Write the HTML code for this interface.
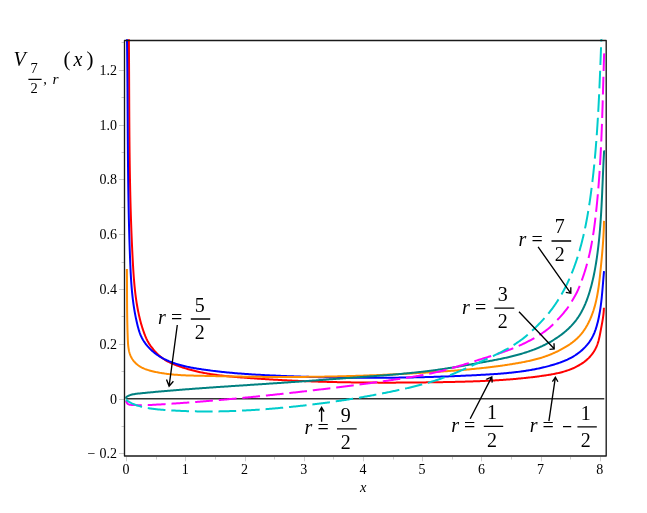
<!DOCTYPE html>
<html><head><meta charset="utf-8"><title>plot</title>
<style>html,body{margin:0;padding:0;background:#fff;}svg{display:block;will-change:transform;}text{font-family:"Liberation Serif",serif;fill:#000;}.i{font-style:italic;}</style>
</head><body>
<svg width="647" height="513" viewBox="0 0 647 513">
<rect x="0" y="0" width="647" height="513" fill="#fff"/>
<path d="M119,453.5H124 M121.5,426.5H124 M119,399.5H124 M121.5,371.5H124 M119,344.5H124 M121.5,316.5H124 M119,289.5H124 M121.5,262.5H124 M119,234.5H124 M121.5,207.5H124 M119,179.5H124 M121.5,152.5H124 M119,125.5H124 M121.5,97.5H124 M119,70.5H124 M121.5,42.5H124 M126.5,457V461.3 M156.5,457V459.5 M185.5,457V461.3 M215.5,457V459.5 M245.5,457V461.3 M274.5,457V459.5 M304.5,457V461.3 M333.5,457V459.5 M363.5,457V461.3 M393.5,457V459.5 M422.5,457V461.3 M452.5,457V459.5 M481.5,457V461.3 M511.5,457V459.5 M541.5,457V461.3 M570.5,457V459.5 M600.5,457V461.3" stroke="#000" stroke-opacity="0.2" stroke-width="1" fill="none"/>
<path d="M126.2,398.85H604.3" stroke="#333" stroke-width="1.5" fill="none"/>
<g fill="none" stroke-width="2" stroke-linejoin="round">
<path d="M128.90,39.30 L128.89,40.30 L128.90,41.30 L128.90,42.30 L128.91,43.30 L128.92,44.30 L128.93,45.30 L128.93,46.30 L128.94,47.30 L128.95,48.30 L128.95,49.30 L128.96,50.30 L128.97,51.30 L128.97,52.30 L128.98,53.30 L128.98,54.30 L128.99,55.30 L129.00,56.29 L129.00,57.29 L129.01,58.29 L129.01,59.29 L129.02,60.29 L129.02,61.29 L129.03,62.29 L129.03,63.29 L129.04,64.29 L129.04,65.29 L129.05,66.29 L129.05,67.29 L129.06,68.29 L129.06,69.29 L129.07,70.29 L129.07,71.29 L129.08,72.29 L129.08,73.29 L129.09,74.29 L129.09,75.29 L129.10,76.29 L129.10,77.29 L129.10,78.29 L129.11,79.29 L129.11,80.29 L129.12,81.29 L129.12,82.29 L129.13,83.29 L129.13,84.29 L129.13,85.29 L129.14,86.29 L129.14,87.29 L129.15,88.29 L129.15,89.29 L129.16,90.29 L129.16,91.29 L129.16,92.29 L129.17,93.29 L129.17,94.29 L129.18,95.29 L129.18,96.29 L129.19,97.29 L129.19,98.29 L129.20,99.29 L129.20,100.29 L129.20,101.29 L129.21,102.29 L129.21,103.29 L129.22,104.29 L129.22,105.29 L129.23,106.29 L129.23,107.29 L129.24,108.29 L129.24,109.29 L129.25,110.29 L129.25,111.29 L129.26,112.30 L129.26,113.30 L129.27,114.30 L129.27,115.30 L129.28,116.30 L129.29,117.30 L129.29,118.30 L129.30,119.30 L129.30,120.30 L129.31,121.30 L129.32,122.30 L129.32,123.30 L129.33,124.30 L129.34,125.30 L129.34,126.30 L129.35,127.30 L129.36,128.30 L129.36,129.30 L129.37,130.30 L129.38,131.30 L129.39,132.30 L129.39,133.30 L129.40,134.30 L129.41,135.30 L129.42,136.30 L129.43,137.30 L129.44,138.30 L129.44,139.30 L129.45,140.30 L129.46,141.30 L129.47,142.30 L129.48,143.30 L129.49,144.30 L129.50,145.30 L129.51,146.30 L129.52,147.30 L129.53,148.30 L129.54,149.30 L129.55,150.30 L129.56,151.30 L129.57,152.30 L129.59,153.30 L129.60,154.30 L129.61,155.30 L129.62,156.30 L129.63,157.30 L129.65,158.30 L129.66,159.30 L129.67,160.30 L129.69,161.30 L129.70,162.30 L129.71,163.30 L129.73,164.30 L129.74,165.30 L129.76,166.30 L129.77,167.30 L129.79,168.30 L129.80,169.30 L129.82,170.30 L129.83,171.30 L129.85,172.30 L129.87,173.30 L129.88,174.30 L129.90,175.30 L129.92,176.30 L129.93,177.30 L129.95,178.30 L129.97,179.30 L129.99,180.30 L130.01,181.30 L130.03,182.30 L130.05,183.30 L130.07,184.30 L130.09,185.30 L130.11,186.30 L130.13,187.30 L130.15,188.30 L130.17,189.30 L130.19,190.30 L130.21,191.30 L130.24,192.30 L130.26,193.30 L130.28,194.30 L130.30,195.30 L130.33,196.30 L130.35,197.30 L130.38,198.30 L130.40,199.30 L130.43,200.30 L130.45,201.30 L130.48,202.29 L130.50,203.29 L130.53,204.29 L130.56,205.29 L130.59,206.29 L130.61,207.29 L130.64,208.29 L130.67,209.29 L130.70,210.29 L130.73,211.29 L130.76,212.29 L130.79,213.29 L130.82,214.29 L130.85,215.29 L130.88,216.29 L130.92,217.29 L130.95,218.29 L130.98,219.29 L131.01,220.28 L131.05,221.28 L131.08,222.28 L131.12,223.28 L131.15,224.28 L131.19,225.28 L131.22,226.28 L131.26,227.28 L131.30,228.28 L131.33,229.28 L131.37,230.28 L131.41,231.27 L131.45,232.27 L131.49,233.27 L131.53,234.27 L131.57,235.27 L131.61,236.27 L131.65,237.27 L131.69,238.27 L131.73,239.27 L131.78,240.26 L131.82,241.26 L131.86,242.26 L131.91,243.26 L131.95,244.26 L132.00,245.26 L132.04,246.26 L132.09,247.26 L132.14,248.25 L132.18,249.25 L132.23,250.25 L132.28,251.25 L132.33,252.25 L132.38,253.25 L132.43,254.25 L132.48,255.24 L132.53,256.24 L132.58,257.24 L132.64,258.24 L132.69,259.24 L132.74,260.24 L132.80,261.23 L132.85,262.23 L132.91,263.23 L132.96,264.23 L133.02,265.23 L133.08,266.23 L133.13,267.22 L133.19,268.22 L133.25,269.22 L133.32,270.22 L133.38,271.21 L133.44,272.21 L133.51,273.21 L133.58,274.21 L133.65,275.20 L133.72,276.20 L133.79,277.20 L133.87,278.19 L133.94,279.19 L134.02,280.19 L134.11,281.18 L134.19,282.18 L134.28,283.18 L134.37,284.17 L134.46,285.17 L134.55,286.16 L134.65,287.16 L134.75,288.15 L134.85,289.15 L134.96,290.14 L135.07,291.13 L135.18,292.13 L135.30,293.12 L135.42,294.11 L135.54,295.11 L135.67,296.10 L135.80,297.09 L135.94,298.08 L136.08,299.07 L136.22,300.06 L136.37,301.05 L136.52,302.04 L136.67,303.03 L136.83,304.02 L137.00,305.01 L137.17,306.00 L137.34,306.99 L137.52,307.98 L137.70,308.96 L137.89,309.95 L138.08,310.94 L138.28,311.92 L138.49,312.91 L138.70,313.89 L138.91,314.87 L139.13,315.86 L139.36,316.83 L139.59,317.81 L139.83,318.79 L140.07,319.76 L140.32,320.74 L140.57,321.71 L140.84,322.67 L141.10,323.64 L141.38,324.60 L141.66,325.56 L141.95,326.52 L142.24,327.47 L142.54,328.42 L142.85,329.37 L143.16,330.31 L143.49,331.25 L143.82,332.18 L144.15,333.11 L144.50,334.04 L144.85,334.96 L145.21,335.88 L145.59,336.79 L145.98,337.69 L146.38,338.59 L146.80,339.48 L147.24,340.37 L147.69,341.24 L148.17,342.11 L148.67,342.97 L149.19,343.83 L149.74,344.67 L150.31,345.51 L150.91,346.33 L151.52,347.15 L152.15,347.96 L152.79,348.75 L153.43,349.54 L154.07,350.31 L154.72,351.07 L155.38,351.82 L156.05,352.55 L156.74,353.27 L157.45,353.97 L158.18,354.66 L158.91,355.33 L159.67,355.99 L160.44,356.63 L161.22,357.24 L162.01,357.84 L162.81,358.42 L163.63,358.98 L164.45,359.52 L165.28,360.04 L166.13,360.54 L166.98,361.03 L167.84,361.50 L168.71,361.95 L169.59,362.39 L170.47,362.81 L171.37,363.22 L172.27,363.62 L173.17,364.01 L174.09,364.38 L175.01,364.75 L175.93,365.11 L176.86,365.46 L177.80,365.80 L178.74,366.14 L179.69,366.47 L180.64,366.79 L181.59,367.11 L182.55,367.43 L183.51,367.74 L184.48,368.05 L185.44,368.35 L186.41,368.65 L187.38,368.94 L188.36,369.23 L189.33,369.51 L190.30,369.78 L191.28,370.05 L192.26,370.31 L193.23,370.56 L194.21,370.81 L195.19,371.05 L196.17,371.29 L197.15,371.52 L198.13,371.74 L199.12,371.95 L200.10,372.17 L201.08,372.37 L202.07,372.57 L203.05,372.77 L204.04,372.95 L205.02,373.14 L206.01,373.32 L206.99,373.49 L207.98,373.66 L208.97,373.83 L209.96,373.99 L210.95,374.14 L211.94,374.29 L212.93,374.44 L213.92,374.59 L214.91,374.72 L215.90,374.86 L216.89,374.99 L217.88,375.12 L218.88,375.25 L219.87,375.37 L220.86,375.49 L221.86,375.60 L222.85,375.72 L223.85,375.83 L224.84,375.93 L225.83,376.04 L226.83,376.14 L227.82,376.24 L228.82,376.34 L229.82,376.43 L230.81,376.53 L231.81,376.62 L232.80,376.71 L233.80,376.80 L234.80,376.88 L235.79,376.97 L236.79,377.05 L237.78,377.14 L238.78,377.22 L239.78,377.30 L240.77,377.38 L241.77,377.46 L242.77,377.54 L243.76,377.62 L244.76,377.69 L245.76,377.77 L246.75,377.85 L247.75,377.92 L248.75,378.00 L249.74,378.07 L250.74,378.14 L251.74,378.22 L252.73,378.29 L253.73,378.36 L254.73,378.43 L255.72,378.50 L256.72,378.57 L257.72,378.64 L258.71,378.71 L259.71,378.77 L260.70,378.84 L261.70,378.91 L262.70,378.97 L263.69,379.04 L264.69,379.10 L265.69,379.16 L266.68,379.23 L267.68,379.29 L268.68,379.35 L269.67,379.41 L270.67,379.47 L271.67,379.53 L272.66,379.59 L273.66,379.65 L274.66,379.70 L275.65,379.76 L276.65,379.82 L277.65,379.87 L278.65,379.93 L279.64,379.98 L280.64,380.04 L281.64,380.09 L282.63,380.14 L283.63,380.19 L284.63,380.24 L285.62,380.29 L286.62,380.34 L287.62,380.39 L288.61,380.44 L289.61,380.49 L290.61,380.54 L291.61,380.58 L292.60,380.63 L293.60,380.68 L294.60,380.72 L295.59,380.77 L296.59,380.81 L297.59,380.85 L298.58,380.90 L299.58,380.94 L300.58,380.98 L301.58,381.02 L302.57,381.06 L303.57,381.10 L304.57,381.14 L305.57,381.18 L306.56,381.22 L307.56,381.25 L308.56,381.29 L309.55,381.33 L310.55,381.36 L311.55,381.40 L312.55,381.43 L313.54,381.47 L314.54,381.50 L315.54,381.54 L316.54,381.57 L317.53,381.60 L318.53,381.63 L319.53,381.66 L320.53,381.69 L321.53,381.72 L322.52,381.75 L323.52,381.78 L324.52,381.81 L325.52,381.84 L326.51,381.86 L327.51,381.89 L328.51,381.92 L329.51,381.94 L330.51,381.97 L331.50,381.99 L332.50,382.02 L333.50,382.04 L334.50,382.06 L335.50,382.09 L336.49,382.11 L337.49,382.13 L338.49,382.15 L339.49,382.17 L340.49,382.19 L341.49,382.21 L342.48,382.23 L343.48,382.25 L344.48,382.27 L345.48,382.29 L346.48,382.31 L347.48,382.32 L348.48,382.34 L349.47,382.36 L350.47,382.37 L351.47,382.39 L352.47,382.40 L353.47,382.41 L354.47,382.43 L355.47,382.44 L356.47,382.45 L357.47,382.47 L358.46,382.48 L359.46,382.49 L360.46,382.50 L361.46,382.51 L362.46,382.52 L363.46,382.53 L364.46,382.54 L365.46,382.55 L366.46,382.56 L367.46,382.57 L368.46,382.57 L369.46,382.58 L370.46,382.59 L371.46,382.59 L372.46,382.60 L373.46,382.61 L374.45,382.61 L375.45,382.62 L376.45,382.62 L377.45,382.62 L378.45,382.63 L379.45,382.63 L380.45,382.63 L381.45,382.64 L382.45,382.64 L383.45,382.64 L384.46,382.64 L385.46,382.64 L386.46,382.64 L387.46,382.64 L388.46,382.64 L389.46,382.64 L390.46,382.64 L391.46,382.64 L392.46,382.64 L393.46,382.63 L394.46,382.63 L395.46,382.63 L396.46,382.62 L397.46,382.62 L398.46,382.62 L399.47,382.61 L400.47,382.61 L401.47,382.60 L402.47,382.60 L403.47,382.59 L404.47,382.59 L405.47,382.58 L406.47,382.57 L407.48,382.57 L408.48,382.56 L409.48,382.55 L410.48,382.54 L411.48,382.53 L412.48,382.53 L413.49,382.52 L414.49,382.51 L415.49,382.50 L416.49,382.49 L417.49,382.48 L418.50,382.47 L419.50,382.46 L420.50,382.44 L421.50,382.43 L422.51,382.42 L423.51,382.41 L424.51,382.40 L425.51,382.38 L426.52,382.37 L427.52,382.36 L428.52,382.34 L429.52,382.33 L430.53,382.32 L431.53,382.30 L432.53,382.29 L433.54,382.27 L434.54,382.26 L435.54,382.24 L436.55,382.23 L437.55,382.21 L438.55,382.20 L439.56,382.18 L440.56,382.16 L441.56,382.14 L442.57,382.13 L443.57,382.11 L444.58,382.09 L445.58,382.07 L446.58,382.06 L447.59,382.04 L448.59,382.02 L449.60,382.00 L450.60,381.98 L451.60,381.96 L452.61,381.94 L453.61,381.91 L454.62,381.89 L455.62,381.87 L456.63,381.85 L457.63,381.82 L458.63,381.80 L459.64,381.77 L460.64,381.75 L461.64,381.72 L462.65,381.70 L463.65,381.67 L464.66,381.64 L465.66,381.61 L466.66,381.58 L467.67,381.55 L468.67,381.52 L469.67,381.49 L470.68,381.46 L471.68,381.42 L472.68,381.39 L473.69,381.35 L474.69,381.32 L475.69,381.28 L476.69,381.24 L477.70,381.21 L478.70,381.17 L479.70,381.13 L480.70,381.08 L481.70,381.04 L482.70,381.00 L483.71,380.95 L484.71,380.91 L485.71,380.86 L486.71,380.81 L487.71,380.77 L488.71,380.72 L489.71,380.66 L490.71,380.61 L491.71,380.56 L492.71,380.50 L493.71,380.45 L494.71,380.39 L495.71,380.33 L496.70,380.27 L497.70,380.21 L498.70,380.15 L499.70,380.09 L500.70,380.02 L501.69,379.96 L502.69,379.89 L503.69,379.82 L504.68,379.75 L505.68,379.68 L506.67,379.61 L507.67,379.53 L508.66,379.45 L509.66,379.38 L510.65,379.30 L511.65,379.22 L512.64,379.14 L513.63,379.05 L514.63,378.97 L515.62,378.88 L516.61,378.79 L517.60,378.70 L518.60,378.61 L519.59,378.51 L520.58,378.42 L521.57,378.32 L522.56,378.22 L523.55,378.12 L524.54,378.02 L525.52,377.92 L526.51,377.81 L527.50,377.70 L528.49,377.59 L529.47,377.48 L530.46,377.37 L531.45,377.25 L532.43,377.14 L533.42,377.02 L534.40,376.90 L535.39,376.77 L536.37,376.65 L537.35,376.52 L538.34,376.39 L539.32,376.26 L540.30,376.13 L541.28,375.99 L542.26,375.85 L543.24,375.72 L544.22,375.57 L545.20,375.43 L546.18,375.28 L547.16,375.13 L548.13,374.98 L549.11,374.82 L550.09,374.66 L551.06,374.49 L552.04,374.32 L553.01,374.14 L553.98,373.95 L554.96,373.76 L555.93,373.56 L556.90,373.35 L557.87,373.14 L558.84,372.91 L559.82,372.68 L560.78,372.44 L561.75,372.18 L562.72,371.92 L563.69,371.64 L564.66,371.35 L565.62,371.06 L566.59,370.74 L567.55,370.42 L568.51,370.08 L569.46,369.74 L570.41,369.37 L571.36,369.00 L572.30,368.61 L573.23,368.21 L574.16,367.79 L575.08,367.36 L575.99,366.92 L576.90,366.46 L577.79,365.99 L578.68,365.50 L579.56,364.99 L580.42,364.47 L581.27,363.94 L582.11,363.39 L582.94,362.82 L583.76,362.24 L584.56,361.64 L585.34,361.02 L586.12,360.38 L586.87,359.73 L587.61,359.06 L588.33,358.38 L589.04,357.67 L589.72,356.95 L590.39,356.21 L591.04,355.45 L591.67,354.67 L592.28,353.87 L592.86,353.06 L593.43,352.23 L593.97,351.39 L594.49,350.54 L594.99,349.67 L595.46,348.79 L595.91,347.90 L596.33,347.00 L596.72,346.09 L597.09,345.17 L597.44,344.24 L597.76,343.31 L598.06,342.37 L598.35,341.42 L598.62,340.47 L598.87,339.51 L599.10,338.54 L599.33,337.57 L599.54,336.60 L599.75,335.62 L599.95,334.64 L600.14,333.65 L600.33,332.66 L600.51,331.66 L600.70,330.67 L600.88,329.67 L601.07,328.67 L601.26,327.66 L601.45,326.66 L601.64,325.66 L601.82,324.65 L602.01,323.65 L602.19,322.64 L602.36,321.64 L602.53,320.64 L602.70,319.64 L602.86,318.64 L603.01,317.64 L603.15,316.64 L603.28,315.65 L603.40,314.66 L603.51,313.68 L603.61,312.70 L603.70,311.72 L603.77,310.75 L603.83,309.78 L603.87,308.82 L603.90,307.87 L603.90,307.80" stroke="#ff0000"/>
<path d="M127.00,39.30 L127.00,40.31 L127.01,41.31 L127.03,42.30 L127.04,43.30 L127.05,44.30 L127.07,45.30 L127.08,46.30 L127.09,47.29 L127.11,48.29 L127.12,49.29 L127.13,50.29 L127.15,51.29 L127.16,52.29 L127.17,53.28 L127.18,54.28 L127.19,55.28 L127.21,56.28 L127.22,57.28 L127.23,58.28 L127.24,59.28 L127.25,60.27 L127.26,61.27 L127.27,62.27 L127.28,63.27 L127.29,64.27 L127.30,65.27 L127.31,66.27 L127.32,67.27 L127.33,68.27 L127.34,69.27 L127.35,70.27 L127.36,71.26 L127.37,72.26 L127.38,73.26 L127.38,74.26 L127.39,75.26 L127.40,76.26 L127.41,77.26 L127.42,78.26 L127.43,79.26 L127.43,80.26 L127.44,81.26 L127.45,82.26 L127.46,83.26 L127.46,84.26 L127.47,85.26 L127.48,86.26 L127.49,87.26 L127.49,88.26 L127.50,89.26 L127.51,90.26 L127.51,91.26 L127.52,92.26 L127.53,93.26 L127.53,94.26 L127.54,95.26 L127.55,96.26 L127.55,97.26 L127.56,98.26 L127.57,99.26 L127.57,100.26 L127.58,101.26 L127.58,102.26 L127.59,103.26 L127.60,104.26 L127.60,105.27 L127.61,106.27 L127.61,107.27 L127.62,108.27 L127.63,109.27 L127.63,110.27 L127.64,111.27 L127.64,112.27 L127.65,113.27 L127.65,114.27 L127.66,115.27 L127.67,116.27 L127.67,117.27 L127.68,118.27 L127.68,119.27 L127.69,120.28 L127.70,121.28 L127.70,122.28 L127.71,123.28 L127.71,124.28 L127.72,125.28 L127.73,126.28 L127.73,127.28 L127.74,128.28 L127.74,129.28 L127.75,130.28 L127.76,131.29 L127.76,132.29 L127.77,133.29 L127.77,134.29 L127.78,135.29 L127.79,136.29 L127.79,137.29 L127.80,138.29 L127.81,139.29 L127.81,140.29 L127.82,141.30 L127.83,142.30 L127.83,143.30 L127.84,144.30 L127.85,145.30 L127.86,146.30 L127.86,147.30 L127.87,148.30 L127.88,149.30 L127.89,150.30 L127.89,151.30 L127.90,152.31 L127.91,153.31 L127.92,154.31 L127.93,155.31 L127.94,156.31 L127.94,157.31 L127.95,158.31 L127.96,159.31 L127.97,160.31 L127.98,161.31 L127.99,162.31 L128.00,163.32 L128.01,164.32 L128.02,165.32 L128.03,166.32 L128.04,167.32 L128.05,168.32 L128.06,169.32 L128.07,170.32 L128.08,171.32 L128.09,172.32 L128.10,173.32 L128.11,174.32 L128.12,175.32 L128.14,176.33 L128.15,177.33 L128.16,178.33 L128.17,179.33 L128.19,180.33 L128.20,181.33 L128.21,182.33 L128.22,183.33 L128.24,184.33 L128.25,185.33 L128.26,186.33 L128.28,187.33 L128.29,188.33 L128.31,189.33 L128.32,190.33 L128.34,191.33 L128.35,192.33 L128.37,193.33 L128.38,194.33 L128.40,195.33 L128.42,196.33 L128.43,197.33 L128.45,198.33 L128.47,199.33 L128.48,200.33 L128.50,201.33 L128.52,202.33 L128.54,203.33 L128.56,204.33 L128.57,205.33 L128.59,206.33 L128.61,207.33 L128.63,208.33 L128.65,209.33 L128.67,210.33 L128.69,211.33 L128.71,212.33 L128.73,213.33 L128.76,214.33 L128.78,215.33 L128.80,216.33 L128.82,217.33 L128.84,218.33 L128.87,219.32 L128.89,220.32 L128.91,221.32 L128.94,222.32 L128.96,223.32 L128.99,224.32 L129.01,225.32 L129.04,226.32 L129.06,227.32 L129.09,228.31 L129.12,229.31 L129.14,230.31 L129.17,231.31 L129.20,232.31 L129.23,233.31 L129.26,234.31 L129.28,235.30 L129.31,236.30 L129.34,237.30 L129.37,238.30 L129.40,239.30 L129.43,240.30 L129.46,241.29 L129.50,242.29 L129.53,243.29 L129.56,244.29 L129.59,245.28 L129.63,246.28 L129.66,247.28 L129.69,248.28 L129.73,249.28 L129.76,250.27 L129.80,251.27 L129.84,252.27 L129.87,253.26 L129.91,254.26 L129.95,255.26 L129.98,256.26 L130.02,257.25 L130.06,258.25 L130.10,259.25 L130.14,260.24 L130.18,261.24 L130.22,262.24 L130.26,263.23 L130.30,264.23 L130.34,265.23 L130.39,266.22 L130.43,267.22 L130.47,268.21 L130.52,269.21 L130.57,270.21 L130.61,271.20 L130.66,272.20 L130.71,273.20 L130.77,274.19 L130.82,275.19 L130.88,276.18 L130.93,277.18 L130.99,278.18 L131.05,279.17 L131.12,280.17 L131.18,281.16 L131.25,282.16 L131.32,283.16 L131.39,284.15 L131.47,285.15 L131.54,286.15 L131.62,287.14 L131.70,288.14 L131.79,289.14 L131.88,290.14 L131.97,291.13 L132.06,292.13 L132.16,293.13 L132.26,294.12 L132.37,295.12 L132.47,296.12 L132.59,297.12 L132.70,298.12 L132.82,299.12 L132.94,300.11 L133.07,301.11 L133.20,302.11 L133.33,303.11 L133.47,304.11 L133.62,305.11 L133.76,306.11 L133.91,307.11 L134.07,308.11 L134.23,309.11 L134.40,310.11 L134.57,311.11 L134.74,312.11 L134.92,313.11 L135.11,314.11 L135.30,315.11 L135.49,316.11 L135.69,317.10 L135.89,318.09 L136.10,319.08 L136.32,320.07 L136.53,321.06 L136.76,322.04 L136.98,323.02 L137.22,323.99 L137.45,324.96 L137.69,325.92 L137.94,326.88 L138.19,327.84 L138.45,328.79 L138.72,329.73 L139.00,330.67 L139.30,331.60 L139.61,332.53 L139.94,333.45 L140.29,334.36 L140.66,335.26 L141.06,336.16 L141.48,337.04 L141.92,337.92 L142.39,338.79 L142.87,339.65 L143.38,340.50 L143.91,341.34 L144.47,342.17 L145.04,342.99 L145.63,343.80 L146.24,344.60 L146.87,345.38 L147.51,346.15 L148.18,346.91 L148.86,347.66 L149.56,348.40 L150.27,349.12 L151.00,349.83 L151.75,350.52 L152.50,351.20 L153.28,351.86 L154.06,352.51 L154.86,353.14 L155.67,353.76 L156.49,354.36 L157.32,354.95 L158.16,355.52 L159.02,356.07 L159.88,356.61 L160.75,357.13 L161.63,357.63 L162.51,358.13 L163.41,358.60 L164.31,359.07 L165.21,359.51 L166.13,359.95 L167.04,360.37 L167.97,360.78 L168.89,361.18 L169.82,361.56 L170.75,361.93 L171.69,362.29 L172.62,362.64 L173.56,362.98 L174.50,363.30 L175.44,363.62 L176.38,363.92 L177.33,364.22 L178.27,364.50 L179.22,364.78 L180.16,365.04 L181.11,365.30 L182.06,365.55 L183.02,365.79 L183.97,366.03 L184.92,366.25 L185.88,366.47 L186.83,366.68 L187.79,366.89 L188.75,367.09 L189.71,367.28 L190.67,367.47 L191.64,367.65 L192.60,367.83 L193.57,368.00 L194.53,368.17 L195.50,368.34 L196.47,368.50 L197.44,368.65 L198.41,368.81 L199.38,368.96 L200.36,369.11 L201.33,369.26 L202.30,369.40 L203.28,369.55 L204.26,369.69 L205.24,369.83 L206.21,369.97 L207.19,370.10 L208.18,370.23 L209.16,370.36 L210.14,370.49 L211.12,370.62 L212.11,370.74 L213.09,370.87 L214.08,370.99 L215.07,371.11 L216.05,371.22 L217.04,371.34 L218.03,371.45 L219.02,371.57 L220.01,371.68 L221.01,371.78 L222.00,371.89 L222.99,372.00 L223.98,372.10 L224.98,372.20 L225.97,372.30 L226.97,372.40 L227.97,372.49 L228.96,372.59 L229.96,372.68 L230.96,372.78 L231.96,372.87 L232.96,372.95 L233.96,373.04 L234.96,373.13 L235.96,373.21 L236.96,373.30 L237.96,373.38 L238.96,373.46 L239.96,373.54 L240.97,373.61 L241.97,373.69 L242.97,373.77 L243.98,373.84 L244.98,373.91 L245.99,373.98 L246.99,374.05 L248.00,374.12 L249.00,374.19 L250.01,374.26 L251.02,374.32 L252.02,374.39 L253.03,374.45 L254.04,374.51 L255.04,374.57 L256.05,374.63 L257.06,374.69 L258.07,374.75 L259.08,374.81 L260.08,374.87 L261.09,374.92 L262.10,374.98 L263.11,375.03 L264.12,375.08 L265.12,375.14 L266.13,375.19 L267.14,375.24 L268.15,375.29 L269.16,375.34 L270.17,375.39 L271.18,375.44 L272.18,375.48 L273.19,375.53 L274.20,375.58 L275.21,375.62 L276.22,375.67 L277.22,375.71 L278.23,375.76 L279.24,375.80 L280.25,375.84 L281.25,375.88 L282.26,375.93 L283.27,375.97 L284.27,376.01 L285.28,376.05 L286.29,376.09 L287.29,376.13 L288.30,376.17 L289.30,376.21 L290.31,376.25 L291.32,376.28 L292.32,376.32 L293.33,376.36 L294.33,376.40 L295.33,376.43 L296.34,376.47 L297.34,376.50 L298.35,376.54 L299.35,376.57 L300.36,376.61 L301.36,376.64 L302.36,376.67 L303.37,376.70 L304.37,376.74 L305.37,376.77 L306.38,376.80 L307.38,376.83 L308.38,376.86 L309.38,376.89 L310.39,376.92 L311.39,376.95 L312.39,376.97 L313.39,377.00 L314.39,377.03 L315.39,377.06 L316.40,377.08 L317.40,377.11 L318.40,377.13 L319.40,377.16 L320.40,377.18 L321.40,377.21 L322.40,377.23 L323.40,377.25 L324.40,377.28 L325.40,377.30 L326.40,377.32 L327.40,377.34 L328.40,377.36 L329.40,377.38 L330.40,377.40 L331.40,377.42 L332.40,377.44 L333.40,377.46 L334.40,377.48 L335.40,377.49 L336.40,377.51 L337.40,377.53 L338.40,377.54 L339.40,377.56 L340.40,377.57 L341.39,377.59 L342.39,377.60 L343.39,377.62 L344.39,377.63 L345.39,377.64 L346.39,377.65 L347.38,377.67 L348.38,377.68 L349.38,377.69 L350.38,377.70 L351.38,377.71 L352.37,377.72 L353.37,377.73 L354.37,377.73 L355.37,377.74 L356.36,377.75 L357.36,377.76 L358.36,377.76 L359.36,377.77 L360.35,377.77 L361.35,377.78 L362.35,377.78 L363.35,377.79 L364.34,377.79 L365.34,377.80 L366.34,377.80 L367.33,377.80 L368.33,377.80 L369.33,377.80 L370.32,377.80 L371.32,377.80 L372.32,377.80 L373.31,377.80 L374.31,377.80 L375.31,377.80 L376.30,377.80 L377.30,377.80 L378.30,377.79 L379.29,377.79 L380.29,377.79 L381.29,377.78 L382.28,377.78 L383.28,377.77 L384.27,377.76 L385.27,377.76 L386.27,377.75 L387.26,377.74 L388.26,377.74 L389.26,377.73 L390.25,377.72 L391.25,377.71 L392.24,377.70 L393.24,377.69 L394.24,377.68 L395.23,377.67 L396.23,377.66 L397.23,377.64 L398.22,377.63 L399.22,377.62 L400.21,377.60 L401.21,377.59 L402.21,377.58 L403.20,377.56 L404.20,377.54 L405.20,377.53 L406.19,377.51 L407.19,377.50 L408.19,377.48 L409.18,377.46 L410.18,377.44 L411.17,377.42 L412.17,377.40 L413.17,377.38 L414.16,377.36 L415.16,377.34 L416.16,377.32 L417.15,377.30 L418.15,377.28 L419.15,377.25 L420.14,377.23 L421.14,377.21 L422.14,377.18 L423.14,377.16 L424.13,377.13 L425.13,377.10 L426.13,377.08 L427.12,377.05 L428.12,377.02 L429.12,377.00 L430.12,376.97 L431.11,376.94 L432.11,376.91 L433.11,376.88 L434.11,376.85 L435.10,376.82 L436.10,376.79 L437.10,376.76 L438.10,376.72 L439.09,376.69 L440.09,376.66 L441.09,376.62 L442.09,376.59 L443.09,376.56 L444.08,376.52 L445.08,376.49 L446.08,376.45 L447.08,376.41 L448.08,376.38 L449.08,376.34 L450.08,376.30 L451.08,376.26 L452.07,376.22 L453.07,376.18 L454.07,376.14 L455.07,376.10 L456.07,376.06 L457.07,376.02 L458.07,375.98 L459.07,375.93 L460.07,375.89 L461.07,375.85 L462.07,375.80 L463.07,375.76 L464.07,375.71 L465.07,375.67 L466.07,375.62 L467.07,375.57 L468.07,375.53 L469.07,375.48 L470.08,375.43 L471.08,375.38 L472.08,375.33 L473.08,375.28 L474.08,375.23 L475.08,375.18 L476.09,375.13 L477.09,375.08 L478.09,375.03 L479.09,374.98 L480.09,374.92 L481.10,374.87 L482.10,374.82 L483.10,374.76 L484.10,374.71 L485.11,374.65 L486.11,374.59 L487.11,374.53 L488.12,374.47 L489.12,374.41 L490.12,374.35 L491.13,374.29 L492.13,374.23 L493.13,374.16 L494.13,374.09 L495.14,374.03 L496.14,373.96 L497.14,373.88 L498.14,373.81 L499.14,373.74 L500.15,373.66 L501.15,373.58 L502.15,373.50 L503.15,373.42 L504.15,373.33 L505.15,373.24 L506.15,373.15 L507.15,373.06 L508.15,372.97 L509.15,372.87 L510.14,372.77 L511.14,372.67 L512.14,372.56 L513.13,372.46 L514.13,372.34 L515.13,372.23 L516.12,372.11 L517.12,371.99 L518.11,371.87 L519.10,371.75 L520.10,371.62 L521.09,371.48 L522.08,371.35 L523.07,371.21 L524.06,371.06 L525.05,370.92 L526.04,370.77 L527.02,370.61 L528.01,370.45 L529.00,370.29 L529.98,370.13 L530.97,369.96 L531.95,369.78 L532.93,369.60 L533.91,369.42 L534.90,369.23 L535.87,369.04 L536.85,368.84 L537.83,368.64 L538.81,368.44 L539.78,368.23 L540.76,368.01 L541.73,367.79 L542.70,367.57 L543.68,367.34 L544.65,367.10 L545.62,366.86 L546.58,366.61 L547.55,366.36 L548.52,366.11 L549.48,365.85 L550.44,365.58 L551.40,365.31 L552.37,365.03 L553.32,364.74 L554.28,364.45 L555.24,364.16 L556.19,363.86 L557.15,363.55 L558.10,363.23 L559.04,362.90 L559.99,362.57 L560.93,362.23 L561.87,361.88 L562.80,361.52 L563.73,361.15 L564.65,360.77 L565.57,360.38 L566.49,359.97 L567.40,359.56 L568.30,359.13 L569.20,358.69 L570.09,358.24 L570.97,357.77 L571.85,357.29 L572.72,356.80 L573.59,356.29 L574.44,355.77 L575.29,355.23 L576.12,354.67 L576.95,354.10 L577.77,353.51 L578.58,352.92 L579.38,352.30 L580.16,351.67 L580.94,351.03 L581.70,350.37 L582.45,349.70 L583.18,349.02 L583.91,348.32 L584.61,347.61 L585.31,346.89 L585.98,346.15 L586.64,345.41 L587.29,344.65 L587.92,343.87 L588.53,343.09 L589.12,342.29 L589.70,341.48 L590.25,340.66 L590.79,339.83 L591.30,338.99 L591.80,338.14 L592.27,337.27 L592.73,336.40 L593.17,335.52 L593.58,334.62 L593.98,333.72 L594.37,332.81 L594.73,331.90 L595.08,330.97 L595.42,330.04 L595.74,329.10 L596.05,328.16 L596.35,327.20 L596.63,326.25 L596.91,325.29 L597.17,324.33 L597.42,323.36 L597.67,322.39 L597.91,321.41 L598.14,320.44 L598.36,319.46 L598.57,318.48 L598.78,317.49 L598.98,316.51 L599.17,315.52 L599.36,314.53 L599.54,313.54 L599.72,312.55 L599.88,311.55 L600.05,310.56 L600.20,309.56 L600.36,308.56 L600.50,307.56 L600.64,306.56 L600.78,305.56 L600.91,304.56 L601.04,303.55 L601.17,302.55 L601.28,301.54 L601.40,300.54 L601.51,299.53 L601.62,298.53 L601.73,297.52 L601.83,296.52 L601.93,295.51 L602.03,294.51 L602.12,293.51 L602.21,292.50 L602.30,291.50 L602.39,290.50 L602.48,289.49 L602.56,288.49 L602.65,287.49 L602.73,286.49 L602.81,285.50 L602.89,284.50 L602.97,283.51 L603.06,282.51 L603.14,281.52 L603.22,280.53 L603.30,279.55 L603.38,278.56 L603.46,277.58 L603.54,276.60 L603.63,275.62 L603.71,274.64 L603.80,273.67 L603.89,272.70 L603.98,271.73 L604.00,271.10" stroke="#0000ff"/>
<path d="M126.90,268.90 L126.89,269.91 L126.90,270.93 L126.91,271.95 L126.92,272.96 L126.93,273.98 L126.93,274.99 L126.94,276.00 L126.95,277.01 L126.96,278.01 L126.96,279.02 L126.97,280.02 L126.97,281.02 L126.98,282.02 L126.98,283.02 L126.99,284.02 L126.99,285.02 L127.00,286.01 L127.00,287.01 L127.01,288.00 L127.01,288.99 L127.01,289.99 L127.02,290.98 L127.02,291.97 L127.02,292.96 L127.03,293.95 L127.03,294.94 L127.04,295.92 L127.04,296.91 L127.04,297.90 L127.05,298.89 L127.05,299.87 L127.06,300.86 L127.06,301.85 L127.07,302.84 L127.08,303.82 L127.08,304.81 L127.09,305.80 L127.10,306.79 L127.10,307.78 L127.11,308.76 L127.12,309.75 L127.13,310.74 L127.14,311.73 L127.15,312.72 L127.17,313.72 L127.18,314.71 L127.19,315.70 L127.21,316.70 L127.22,317.69 L127.24,318.69 L127.25,319.69 L127.27,320.69 L127.29,321.69 L127.31,322.69 L127.33,323.69 L127.35,324.70 L127.38,325.70 L127.40,326.71 L127.43,327.72 L127.45,328.73 L127.48,329.74 L127.51,330.76 L127.54,331.77 L127.57,332.79 L127.60,333.81 L127.64,334.83 L127.67,335.86 L127.71,336.89 L127.75,337.92 L127.79,338.95 L127.83,339.98 L127.88,341.02 L127.94,342.05 L128.00,343.08 L128.07,344.11 L128.16,345.14 L128.26,346.16 L128.38,347.17 L128.52,348.18 L128.68,349.18 L128.86,350.17 L129.07,351.15 L129.31,352.11 L129.57,353.06 L129.87,354.00 L130.21,354.92 L130.58,355.82 L130.98,356.71 L131.43,357.58 L131.91,358.42 L132.43,359.25 L132.99,360.05 L133.58,360.83 L134.20,361.58 L134.86,362.31 L135.54,363.02 L136.25,363.69 L136.99,364.34 L137.75,364.96 L138.54,365.54 L139.36,366.10 L140.19,366.62 L141.04,367.12 L141.91,367.58 L142.80,368.02 L143.71,368.43 L144.63,368.82 L145.56,369.19 L146.51,369.53 L147.46,369.85 L148.43,370.16 L149.40,370.45 L150.38,370.72 L151.37,370.98 L152.36,371.22 L153.35,371.46 L154.34,371.68 L155.33,371.90 L156.32,372.11 L157.32,372.31 L158.31,372.50 L159.30,372.68 L160.29,372.86 L161.29,373.03 L162.28,373.19 L163.27,373.34 L164.27,373.49 L165.26,373.63 L166.25,373.77 L167.25,373.90 L168.24,374.02 L169.23,374.13 L170.23,374.24 L171.22,374.35 L172.21,374.45 L173.21,374.54 L174.20,374.63 L175.20,374.72 L176.19,374.80 L177.18,374.87 L178.18,374.94 L179.17,375.01 L180.17,375.07 L181.16,375.13 L182.16,375.19 L183.15,375.24 L184.15,375.29 L185.14,375.33 L186.14,375.38 L187.13,375.42 L188.13,375.45 L189.12,375.49 L190.12,375.52 L191.11,375.55 L192.11,375.58 L193.10,375.61 L194.10,375.64 L195.09,375.67 L196.09,375.69 L197.08,375.72 L198.08,375.74 L199.08,375.76 L200.07,375.78 L201.07,375.81 L202.06,375.83 L203.06,375.85 L204.06,375.87 L205.05,375.90 L206.05,375.92 L207.04,375.94 L208.04,375.96 L209.04,375.99 L210.03,376.01 L211.03,376.03 L212.03,376.05 L213.02,376.07 L214.02,376.09 L215.02,376.11 L216.01,376.14 L217.01,376.16 L218.01,376.18 L219.00,376.20 L220.00,376.22 L221.00,376.24 L222.00,376.26 L222.99,376.28 L223.99,376.30 L224.99,376.32 L225.99,376.34 L226.98,376.36 L227.98,376.38 L228.98,376.39 L229.98,376.41 L230.97,376.43 L231.97,376.45 L232.97,376.47 L233.97,376.49 L234.97,376.50 L235.96,376.52 L236.96,376.54 L237.96,376.55 L238.96,376.57 L239.96,376.59 L240.95,376.60 L241.95,376.62 L242.95,376.63 L243.95,376.65 L244.95,376.66 L245.95,376.68 L246.94,376.69 L247.94,376.71 L248.94,376.72 L249.94,376.74 L250.94,376.75 L251.94,376.76 L252.94,376.77 L253.94,376.79 L254.94,376.80 L255.93,376.81 L256.93,376.82 L257.93,376.83 L258.93,376.84 L259.93,376.85 L260.93,376.86 L261.93,376.87 L262.93,376.88 L263.93,376.89 L264.93,376.90 L265.93,376.91 L266.93,376.91 L267.93,376.92 L268.92,376.93 L269.92,376.94 L270.92,376.94 L271.92,376.95 L272.92,376.95 L273.92,376.96 L274.92,376.96 L275.92,376.97 L276.92,376.97 L277.92,376.97 L278.92,376.98 L279.92,376.98 L280.92,376.98 L281.92,376.98 L282.92,376.98 L283.92,376.98 L284.92,376.98 L285.92,376.98 L286.92,376.98 L287.92,376.98 L288.92,376.98 L289.92,376.98 L290.92,376.97 L291.92,376.97 L292.92,376.97 L293.92,376.96 L294.92,376.96 L295.92,376.95 L296.92,376.95 L297.92,376.94 L298.93,376.94 L299.93,376.93 L300.93,376.92 L301.93,376.92 L302.93,376.91 L303.93,376.90 L304.93,376.89 L305.93,376.88 L306.93,376.87 L307.93,376.86 L308.93,376.85 L309.93,376.84 L310.93,376.83 L311.93,376.82 L312.93,376.81 L313.93,376.79 L314.94,376.78 L315.94,376.77 L316.94,376.75 L317.94,376.74 L318.94,376.72 L319.94,376.71 L320.94,376.69 L321.94,376.68 L322.94,376.66 L323.94,376.64 L324.94,376.62 L325.95,376.61 L326.95,376.59 L327.95,376.57 L328.95,376.55 L329.95,376.53 L330.95,376.51 L331.95,376.49 L332.95,376.47 L333.95,376.45 L334.95,376.42 L335.96,376.40 L336.96,376.38 L337.96,376.35 L338.96,376.33 L339.96,376.31 L340.96,376.28 L341.96,376.26 L342.96,376.23 L343.97,376.20 L344.97,376.18 L345.97,376.15 L346.97,376.12 L347.97,376.10 L348.97,376.07 L349.97,376.04 L350.97,376.01 L351.97,375.98 L352.98,375.95 L353.98,375.92 L354.98,375.89 L355.98,375.86 L356.98,375.83 L357.98,375.79 L358.98,375.76 L359.98,375.73 L360.99,375.69 L361.99,375.66 L362.99,375.63 L363.99,375.59 L364.99,375.56 L365.99,375.52 L366.99,375.48 L367.99,375.45 L368.99,375.41 L370.00,375.37 L371.00,375.33 L372.00,375.30 L373.00,375.26 L374.00,375.22 L375.00,375.18 L376.00,375.14 L377.00,375.10 L378.00,375.06 L379.01,375.01 L380.01,374.97 L381.01,374.93 L382.01,374.89 L383.01,374.84 L384.01,374.80 L385.01,374.76 L386.01,374.71 L387.01,374.67 L388.02,374.62 L389.02,374.57 L390.02,374.53 L391.02,374.48 L392.02,374.43 L393.02,374.39 L394.02,374.34 L395.02,374.29 L396.02,374.24 L397.02,374.19 L398.02,374.14 L399.02,374.09 L400.03,374.04 L401.03,373.99 L402.03,373.94 L403.03,373.88 L404.03,373.83 L405.03,373.78 L406.03,373.73 L407.03,373.67 L408.03,373.62 L409.03,373.56 L410.03,373.51 L411.03,373.45 L412.03,373.40 L413.03,373.34 L414.03,373.28 L415.04,373.22 L416.04,373.17 L417.04,373.11 L418.04,373.05 L419.04,372.99 L420.04,372.93 L421.04,372.87 L422.04,372.81 L423.04,372.75 L424.04,372.69 L425.04,372.63 L426.04,372.56 L427.04,372.50 L428.04,372.44 L429.04,372.37 L430.04,372.31 L431.04,372.24 L432.04,372.18 L433.04,372.11 L434.04,372.05 L435.04,371.98 L436.04,371.92 L437.04,371.85 L438.04,371.78 L439.04,371.71 L440.04,371.64 L441.04,371.57 L442.04,371.51 L443.04,371.44 L444.04,371.37 L445.04,371.29 L446.04,371.22 L447.03,371.15 L448.03,371.08 L449.03,371.00 L450.03,370.93 L451.03,370.86 L452.03,370.78 L453.03,370.71 L454.03,370.63 L455.03,370.55 L456.02,370.47 L457.02,370.39 L458.02,370.31 L459.02,370.23 L460.02,370.15 L461.01,370.07 L462.01,369.99 L463.01,369.90 L464.00,369.82 L465.00,369.73 L466.00,369.64 L466.99,369.55 L467.99,369.47 L468.99,369.38 L469.98,369.28 L470.98,369.19 L471.97,369.10 L472.97,369.00 L473.96,368.91 L474.96,368.81 L475.95,368.71 L476.94,368.61 L477.94,368.51 L478.93,368.41 L479.92,368.30 L480.92,368.20 L481.91,368.09 L482.90,367.99 L483.89,367.88 L484.88,367.77 L485.87,367.65 L486.86,367.54 L487.85,367.43 L488.84,367.31 L489.83,367.19 L490.82,367.07 L491.81,366.95 L492.80,366.83 L493.79,366.70 L494.77,366.58 L495.76,366.45 L496.75,366.32 L497.73,366.19 L498.72,366.06 L499.70,365.92 L500.69,365.79 L501.67,365.65 L502.66,365.51 L503.64,365.37 L504.62,365.22 L505.61,365.08 L506.59,364.93 L507.57,364.78 L508.55,364.63 L509.53,364.48 L510.51,364.32 L511.49,364.16 L512.47,364.01 L513.45,363.84 L514.42,363.68 L515.40,363.51 L516.38,363.35 L517.35,363.18 L518.33,363.00 L519.30,362.83 L520.28,362.65 L521.25,362.47 L522.22,362.29 L523.20,362.11 L524.17,361.92 L525.14,361.73 L526.11,361.53 L527.08,361.33 L528.05,361.13 L529.02,360.92 L529.98,360.71 L530.95,360.49 L531.92,360.27 L532.88,360.04 L533.85,359.80 L534.81,359.56 L535.78,359.31 L536.74,359.06 L537.70,358.79 L538.66,358.52 L539.62,358.25 L540.58,357.96 L541.54,357.67 L542.50,357.36 L543.46,357.05 L544.42,356.73 L545.37,356.40 L546.33,356.06 L547.28,355.71 L548.23,355.36 L549.18,354.99 L550.13,354.61 L551.07,354.23 L552.02,353.84 L552.95,353.44 L553.89,353.03 L554.82,352.61 L555.75,352.18 L556.67,351.75 L557.59,351.30 L558.51,350.85 L559.42,350.39 L560.32,349.92 L561.22,349.44 L562.12,348.96 L563.01,348.47 L563.89,347.97 L564.76,347.46 L565.63,346.94 L566.49,346.42 L567.35,345.88 L568.19,345.34 L569.03,344.79 L569.86,344.23 L570.67,343.65 L571.48,343.07 L572.28,342.48 L573.07,341.87 L573.85,341.26 L574.61,340.63 L575.37,339.99 L576.11,339.34 L576.84,338.67 L577.56,337.99 L578.26,337.30 L578.95,336.60 L579.63,335.88 L580.29,335.14 L580.94,334.39 L581.57,333.63 L582.18,332.85 L582.79,332.06 L583.37,331.26 L583.95,330.44 L584.51,329.62 L585.05,328.78 L585.59,327.94 L586.11,327.08 L586.61,326.22 L587.11,325.35 L587.59,324.47 L588.05,323.58 L588.51,322.69 L588.95,321.79 L589.39,320.89 L589.81,319.99 L590.21,319.08 L590.61,318.16 L591.00,317.24 L591.37,316.32 L591.73,315.39 L592.09,314.46 L592.43,313.53 L592.76,312.59 L593.08,311.65 L593.40,310.71 L593.70,309.76 L594.00,308.81 L594.28,307.85 L594.56,306.90 L594.83,305.94 L595.09,304.97 L595.34,304.01 L595.58,303.04 L595.82,302.07 L596.04,301.10 L596.27,300.12 L596.48,299.14 L596.69,298.16 L596.89,297.18 L597.08,296.20 L597.27,295.21 L597.45,294.23 L597.62,293.24 L597.79,292.25 L597.96,291.25 L598.12,290.26 L598.27,289.27 L598.42,288.27 L598.57,287.28 L598.71,286.28 L598.84,285.28 L598.98,284.28 L599.11,283.28 L599.23,282.28 L599.35,281.28 L599.47,280.28 L599.59,279.28 L599.70,278.28 L599.81,277.28 L599.92,276.28 L600.03,275.28 L600.14,274.27 L600.24,273.27 L600.34,272.27 L600.44,271.28 L600.54,270.28 L600.64,269.28 L600.74,268.28 L600.84,267.29 L600.94,266.29 L601.04,265.30 L601.14,264.31 L601.23,263.31 L601.33,262.32 L601.42,261.33 L601.52,260.34 L601.61,259.35 L601.71,258.36 L601.80,257.37 L601.89,256.38 L601.98,255.39 L602.07,254.40 L602.16,253.41 L602.24,252.43 L602.33,251.44 L602.41,250.45 L602.49,249.46 L602.58,248.47 L602.65,247.48 L602.73,246.49 L602.81,245.50 L602.88,244.51 L602.96,243.52 L603.03,242.53 L603.10,241.54 L603.16,240.54 L603.23,239.55 L603.29,238.56 L603.35,237.56 L603.41,236.56 L603.47,235.57 L603.52,234.57 L603.57,233.57 L603.62,232.57 L603.67,231.57 L603.71,230.56 L603.75,229.56 L603.79,228.55 L603.83,227.55 L603.86,226.54 L603.89,225.53 L603.92,224.52 L603.94,223.50 L603.96,222.49 L603.98,221.47 L604.00,220.90" stroke="#ff8c00"/>
<path d="M126.20,398.60 L126.12,397.41 L126.65,396.81 L127.41,396.29 L128.29,395.84 L129.22,395.45 L130.16,395.11 L131.11,394.81 L132.07,394.56 L133.04,394.33 L134.02,394.14 L135.00,393.98 L135.98,393.84 L136.97,393.71 L137.97,393.60 L138.96,393.50 L139.96,393.39 L140.96,393.29 L141.95,393.19 L142.95,393.10 L143.95,393.00 L144.94,392.90 L145.94,392.80 L146.93,392.71 L147.93,392.61 L148.93,392.51 L149.92,392.42 L150.92,392.33 L151.92,392.23 L152.91,392.14 L153.91,392.05 L154.91,391.95 L155.90,391.86 L156.90,391.77 L157.90,391.68 L158.90,391.59 L159.89,391.50 L160.89,391.42 L161.89,391.33 L162.88,391.24 L163.88,391.15 L164.88,391.07 L165.87,390.98 L166.87,390.89 L167.87,390.81 L168.87,390.72 L169.86,390.64 L170.86,390.56 L171.86,390.47 L172.86,390.39 L173.85,390.31 L174.85,390.23 L175.85,390.15 L176.85,390.07 L177.84,389.99 L178.84,389.91 L179.84,389.83 L180.84,389.75 L181.83,389.67 L182.83,389.59 L183.83,389.51 L184.83,389.43 L185.82,389.36 L186.82,389.28 L187.82,389.20 L188.82,389.13 L189.82,389.05 L190.81,388.98 L191.81,388.90 L192.81,388.83 L193.81,388.75 L194.81,388.68 L195.80,388.60 L196.80,388.53 L197.80,388.46 L198.80,388.39 L199.80,388.31 L200.79,388.24 L201.79,388.17 L202.79,388.10 L203.79,388.03 L204.79,387.95 L205.78,387.88 L206.78,387.81 L207.78,387.74 L208.78,387.67 L209.78,387.60 L210.77,387.53 L211.77,387.46 L212.77,387.39 L213.77,387.33 L214.77,387.26 L215.77,387.19 L216.76,387.12 L217.76,387.05 L218.76,386.98 L219.76,386.92 L220.76,386.85 L221.75,386.78 L222.75,386.71 L223.75,386.65 L224.75,386.58 L225.75,386.51 L226.75,386.45 L227.74,386.38 L228.74,386.31 L229.74,386.25 L230.74,386.18 L231.74,386.12 L232.73,386.05 L233.73,385.98 L234.73,385.92 L235.73,385.85 L236.73,385.79 L237.73,385.72 L238.72,385.66 L239.72,385.59 L240.72,385.52 L241.72,385.46 L242.72,385.39 L243.71,385.33 L244.71,385.26 L245.71,385.20 L246.71,385.13 L247.71,385.07 L248.70,385.00 L249.70,384.94 L250.70,384.87 L251.70,384.81 L252.70,384.74 L253.70,384.68 L254.69,384.61 L255.69,384.55 L256.69,384.48 L257.69,384.41 L258.69,384.35 L259.68,384.28 L260.68,384.22 L261.68,384.15 L262.68,384.09 L263.67,384.02 L264.67,383.96 L265.67,383.89 L266.67,383.82 L267.67,383.76 L268.66,383.69 L269.66,383.62 L270.66,383.56 L271.66,383.49 L272.65,383.42 L273.65,383.36 L274.65,383.29 L275.65,383.22 L276.64,383.15 L277.64,383.09 L278.64,383.02 L279.64,382.95 L280.63,382.88 L281.63,382.81 L282.63,382.75 L283.63,382.68 L284.62,382.61 L285.62,382.54 L286.62,382.47 L287.62,382.40 L288.61,382.33 L289.61,382.26 L290.61,382.19 L291.60,382.12 L292.60,382.05 L293.60,381.98 L294.60,381.91 L295.59,381.84 L296.59,381.77 L297.59,381.70 L298.58,381.63 L299.58,381.56 L300.58,381.48 L301.57,381.41 L302.57,381.34 L303.57,381.27 L304.56,381.20 L305.56,381.13 L306.56,381.05 L307.55,380.98 L308.55,380.91 L309.55,380.84 L310.54,380.76 L311.54,380.69 L312.54,380.62 L313.53,380.55 L314.53,380.47 L315.53,380.40 L316.52,380.33 L317.52,380.26 L318.52,380.18 L319.51,380.11 L320.51,380.04 L321.51,379.96 L322.50,379.89 L323.50,379.82 L324.49,379.74 L325.49,379.67 L326.49,379.60 L327.48,379.52 L328.48,379.45 L329.48,379.37 L330.47,379.30 L331.47,379.23 L332.46,379.15 L333.46,379.08 L334.46,379.01 L335.45,378.93 L336.45,378.86 L337.44,378.78 L338.44,378.71 L339.44,378.64 L340.43,378.56 L341.43,378.49 L342.42,378.42 L343.42,378.34 L344.41,378.27 L345.41,378.19 L346.41,378.12 L347.40,378.05 L348.40,377.97 L349.39,377.90 L350.39,377.83 L351.38,377.75 L352.38,377.68 L353.38,377.61 L354.37,377.53 L355.37,377.46 L356.36,377.38 L357.36,377.31 L358.35,377.24 L359.35,377.17 L360.34,377.09 L361.34,377.02 L362.33,376.95 L363.33,376.87 L364.32,376.80 L365.32,376.73 L366.31,376.65 L367.31,376.58 L368.31,376.51 L369.30,376.43 L370.30,376.36 L371.29,376.29 L372.29,376.21 L373.28,376.14 L374.28,376.06 L375.27,375.99 L376.27,375.91 L377.26,375.84 L378.26,375.76 L379.25,375.69 L380.25,375.61 L381.24,375.53 L382.24,375.46 L383.23,375.38 L384.22,375.30 L385.22,375.22 L386.21,375.14 L387.21,375.06 L388.20,374.98 L389.20,374.90 L390.19,374.82 L391.19,374.74 L392.18,374.66 L393.18,374.57 L394.17,374.49 L395.17,374.40 L396.16,374.32 L397.16,374.23 L398.15,374.14 L399.14,374.06 L400.14,373.97 L401.13,373.88 L402.13,373.79 L403.12,373.70 L404.12,373.60 L405.11,373.51 L406.11,373.41 L407.10,373.32 L408.09,373.22 L409.09,373.13 L410.08,373.03 L411.08,372.93 L412.07,372.83 L413.07,372.73 L414.06,372.62 L415.05,372.52 L416.05,372.41 L417.04,372.31 L418.04,372.20 L419.03,372.09 L420.02,371.98 L421.02,371.87 L422.01,371.75 L423.01,371.64 L424.00,371.52 L424.99,371.41 L425.99,371.29 L426.98,371.17 L427.98,371.05 L428.97,370.92 L429.96,370.80 L430.96,370.67 L431.95,370.54 L432.95,370.41 L433.94,370.28 L434.93,370.15 L435.93,370.02 L436.92,369.88 L437.91,369.74 L438.91,369.60 L439.90,369.46 L440.90,369.32 L441.89,369.17 L442.88,369.03 L443.88,368.88 L444.87,368.73 L445.86,368.58 L446.86,368.42 L447.85,368.27 L448.84,368.11 L449.84,367.96 L450.83,367.80 L451.82,367.64 L452.82,367.48 L453.81,367.32 L454.80,367.15 L455.80,366.99 L456.79,366.82 L457.79,366.66 L458.78,366.49 L459.77,366.32 L460.77,366.15 L461.76,365.98 L462.75,365.81 L463.74,365.64 L464.74,365.46 L465.73,365.29 L466.72,365.12 L467.72,364.94 L468.71,364.77 L469.70,364.59 L470.70,364.42 L471.69,364.24 L472.68,364.06 L473.68,363.88 L474.67,363.71 L475.66,363.53 L476.66,363.35 L477.65,363.17 L478.64,363.00 L479.63,362.82 L480.63,362.64 L481.62,362.46 L482.61,362.28 L483.61,362.10 L484.60,361.92 L485.59,361.74 L486.58,361.56 L487.58,361.38 L488.57,361.20 L489.56,361.02 L490.55,360.83 L491.54,360.65 L492.53,360.46 L493.52,360.27 L494.50,360.08 L495.49,359.89 L496.48,359.70 L497.47,359.50 L498.45,359.31 L499.43,359.11 L500.42,358.91 L501.40,358.70 L502.38,358.50 L503.36,358.29 L504.34,358.08 L505.32,357.86 L506.30,357.65 L507.27,357.43 L508.25,357.20 L509.22,356.98 L510.19,356.75 L511.16,356.51 L512.13,356.28 L513.10,356.04 L514.06,355.79 L515.03,355.54 L515.99,355.29 L516.95,355.03 L517.91,354.77 L518.87,354.51 L519.82,354.24 L520.78,353.96 L521.73,353.68 L522.68,353.40 L523.63,353.11 L524.57,352.81 L525.51,352.51 L526.46,352.21 L527.39,351.90 L528.33,351.58 L529.27,351.26 L530.20,350.93 L531.13,350.60 L532.05,350.26 L532.98,349.91 L533.90,349.56 L534.82,349.20 L535.74,348.84 L536.65,348.47 L537.56,348.09 L538.47,347.71 L539.38,347.31 L540.28,346.91 L541.18,346.51 L542.08,346.10 L542.97,345.67 L543.86,345.25 L544.75,344.81 L545.64,344.37 L546.52,343.92 L547.40,343.46 L548.27,342.99 L549.14,342.51 L550.01,342.03 L550.88,341.54 L551.74,341.03 L552.60,340.53 L553.45,340.01 L554.30,339.48 L555.15,338.94 L555.99,338.40 L556.83,337.84 L557.67,337.28 L558.49,336.71 L559.32,336.13 L560.13,335.54 L560.95,334.94 L561.75,334.33 L562.55,333.71 L563.34,333.09 L564.12,332.45 L564.90,331.81 L565.67,331.16 L566.43,330.49 L567.18,329.82 L567.92,329.14 L568.65,328.45 L569.38,327.76 L570.09,327.05 L570.79,326.33 L571.49,325.61 L572.17,324.87 L572.84,324.13 L573.50,323.38 L574.15,322.61 L574.78,321.84 L575.41,321.06 L576.02,320.28 L576.61,319.48 L577.20,318.67 L577.77,317.85 L578.33,317.03 L578.87,316.20 L579.41,315.36 L579.93,314.51 L580.44,313.65 L580.94,312.79 L581.42,311.92 L581.90,311.04 L582.36,310.16 L582.82,309.27 L583.26,308.37 L583.69,307.47 L584.12,306.56 L584.53,305.65 L584.93,304.73 L585.33,303.81 L585.71,302.88 L586.09,301.95 L586.46,301.01 L586.82,300.07 L587.17,299.13 L587.51,298.19 L587.85,297.24 L588.17,296.28 L588.50,295.33 L588.81,294.37 L589.12,293.41 L589.42,292.45 L589.71,291.49 L590.00,290.53 L590.28,289.56 L590.55,288.60 L590.82,287.63 L591.09,286.67 L591.35,285.70 L591.60,284.73 L591.85,283.76 L592.09,282.79 L592.33,281.82 L592.56,280.85 L592.79,279.87 L593.01,278.90 L593.23,277.93 L593.45,276.95 L593.66,275.98 L593.86,275.00 L594.06,274.02 L594.26,273.04 L594.45,272.07 L594.64,271.09 L594.82,270.11 L595.00,269.13 L595.18,268.15 L595.35,267.16 L595.52,266.18 L595.69,265.20 L595.85,264.22 L596.01,263.23 L596.17,262.25 L596.32,261.26 L596.48,260.28 L596.62,259.29 L596.77,258.31 L596.91,257.32 L597.05,256.33 L597.19,255.34 L597.32,254.36 L597.46,253.37 L597.59,252.38 L597.71,251.39 L597.84,250.40 L597.96,249.41 L598.08,248.42 L598.20,247.43 L598.32,246.44 L598.43,245.44 L598.54,244.45 L598.65,243.46 L598.76,242.47 L598.86,241.47 L598.97,240.48 L599.07,239.48 L599.17,238.49 L599.27,237.50 L599.36,236.50 L599.45,235.51 L599.55,234.51 L599.64,233.51 L599.72,232.52 L599.81,231.52 L599.90,230.53 L599.98,229.53 L600.06,228.53 L600.14,227.54 L600.22,226.54 L600.30,225.54 L600.37,224.54 L600.44,223.54 L600.52,222.55 L600.59,221.55 L600.66,220.55 L600.73,219.55 L600.79,218.55 L600.86,217.55 L600.92,216.55 L600.99,215.55 L601.05,214.55 L601.11,213.55 L601.17,212.55 L601.23,211.55 L601.28,210.55 L601.34,209.55 L601.40,208.55 L601.45,207.55 L601.51,206.55 L601.56,205.55 L601.61,204.55 L601.66,203.55 L601.71,202.55 L601.76,201.55 L601.81,200.55 L601.86,199.55 L601.91,198.54 L601.96,197.54 L602.00,196.54 L602.05,195.54 L602.10,194.54 L602.14,193.54 L602.19,192.54 L602.23,191.54 L602.27,190.54 L602.32,189.54 L602.36,188.54 L602.40,187.53 L602.45,186.53 L602.49,185.53 L602.53,184.53 L602.58,183.53 L602.62,182.53 L602.66,181.53 L602.70,180.53 L602.75,179.53 L602.79,178.53 L602.83,177.53 L602.87,176.53 L602.92,175.54 L602.96,174.54 L603.00,173.54 L603.05,172.54 L603.09,171.54 L603.13,170.54 L603.18,169.54 L603.22,168.55 L603.27,167.55 L603.31,166.55 L603.36,165.55 L603.41,164.56 L603.45,163.56 L603.50,162.56 L603.55,161.57 L603.60,160.57 L603.65,159.57 L603.70,158.58 L603.75,157.58 L603.80,156.59 L603.86,155.59 L603.91,154.60 L603.97,153.61 L604.02,152.61 L604.08,151.62 L604.13,150.63 L604.10,150.60" stroke="#008080"/>
<path d="M126.26,400.70 L126.25,401.00 L126.50,402.06 L126.90,402.91 L127.45,403.58 L128.12,404.09 L128.90,404.46 L129.77,404.72 L130.70,404.88 L131.67,404.98 L132.68,405.04 L133.70,405.07 L134.71,405.10 L135.73,405.12 L136.74,405.14 L137.75,405.16 L138.77,405.16 L139.78,405.17 L140.79,405.16 L141.80,405.16 L141.84,405.16 M147.76,405.03 L147.83,405.03 L148.83,405.00 L149.84,404.96 L150.84,404.92 L151.84,404.88 L152.84,404.83 L153.84,404.78 L154.84,404.73 L155.84,404.68 L156.84,404.62 L157.84,404.57 L158.84,404.51 L159.83,404.45 L160.83,404.39 L161.83,404.33 L162.83,404.27 L163.83,404.21 L164.82,404.14 L165.60,404.09 M171.50,403.71 L171.80,403.69 L172.80,403.62 L173.80,403.55 L174.80,403.48 L175.79,403.42 L176.79,403.35 L177.79,403.28 L178.78,403.21 L179.78,403.14 L180.78,403.07 L181.78,403.00 L182.77,402.93 L183.77,402.85 L184.77,402.78 L185.76,402.71 L186.76,402.64 L187.76,402.56 L188.75,402.49 L189.29,402.45 M195.18,402.00 L195.73,401.96 L196.72,401.88 L197.72,401.80 L198.72,401.73 L199.71,401.65 L200.71,401.57 L201.70,401.49 L202.70,401.41 L203.70,401.33 L204.69,401.25 L205.69,401.17 L206.68,401.09 L207.68,401.01 L208.68,400.92 L209.67,400.84 L210.67,400.76 L211.66,400.67 L212.66,400.59 L212.93,400.57 M218.80,400.07 L219.63,399.99 L220.62,399.91 L221.62,399.82 L222.61,399.73 L223.61,399.64 L224.61,399.56 L225.60,399.47 L226.60,399.38 L227.59,399.29 L228.59,399.20 L229.58,399.11 L230.58,399.02 L231.57,398.93 L232.57,398.84 L233.56,398.74 L234.56,398.65 L235.55,398.56 L236.51,398.47 M242.37,397.92 L242.52,397.90 L243.51,397.81 L244.51,397.71 L245.50,397.62 L246.50,397.52 L247.49,397.42 L248.49,397.33 L249.48,397.23 L250.48,397.13 L251.47,397.03 L252.47,396.93 L253.46,396.83 L254.45,396.74 L255.45,396.64 L256.44,396.54 L257.44,396.44 L258.43,396.34 L259.43,396.23 L260.04,396.17 M265.89,395.57 L266.39,395.52 L267.38,395.42 L268.38,395.31 L269.37,395.21 L270.37,395.10 L271.36,395.00 L272.36,394.89 L273.35,394.79 L274.35,394.68 L275.34,394.58 L276.33,394.47 L277.33,394.36 L278.32,394.26 L279.32,394.15 L280.31,394.04 L281.31,393.93 L282.30,393.82 L283.29,393.72 L283.53,393.69 M289.37,393.05 L290.25,392.95 L291.25,392.84 L292.24,392.72 L293.24,392.61 L294.23,392.50 L295.22,392.39 L296.22,392.28 L297.21,392.16 L298.21,392.05 L299.20,391.94 L300.20,391.82 L301.19,391.71 L302.18,391.60 L303.18,391.48 L304.17,391.37 L305.17,391.25 L306.16,391.14 L306.97,391.04 M312.80,390.36 L313.12,390.32 L314.11,390.20 L315.11,390.09 L316.10,389.97 L317.10,389.85 L318.09,389.73 L319.09,389.61 L320.08,389.49 L321.07,389.37 L322.07,389.25 L323.06,389.14 L324.06,389.01 L325.05,388.89 L326.04,388.77 L327.04,388.65 L328.03,388.53 L329.03,388.41 L330.02,388.29 L330.36,388.25 M336.18,387.53 L336.98,387.43 L337.97,387.30 L338.97,387.18 L339.96,387.05 L340.95,386.93 L341.95,386.80 L342.94,386.68 L343.93,386.55 L344.93,386.43 L345.92,386.30 L346.91,386.17 L347.91,386.04 L348.90,385.92 L349.89,385.79 L350.89,385.66 L351.88,385.53 L352.87,385.40 L353.72,385.29 M359.52,384.53 L359.82,384.49 L360.81,384.36 L361.80,384.22 L362.79,384.09 L363.79,383.96 L364.78,383.82 L365.77,383.69 L366.76,383.56 L367.75,383.42 L368.74,383.29 L369.73,383.15 L370.72,383.01 L371.71,382.88 L372.71,382.74 L373.70,382.60 L374.69,382.47 L375.68,382.33 L376.67,382.19 L377.02,382.14 M382.82,381.32 L383.59,381.21 L384.58,381.07 L385.57,380.93 L386.56,380.78 L387.54,380.64 L388.53,380.50 L389.52,380.35 L390.51,380.21 L391.49,380.06 L392.48,379.92 L393.47,379.77 L394.45,379.62 L395.44,379.48 L396.43,379.33 L397.41,379.18 L398.40,379.03 L399.38,378.89 L400.28,378.75 M406.06,377.86 L406.28,377.83 L407.26,377.67 L408.24,377.52 L409.23,377.36 L410.21,377.20 L411.19,377.04 L412.18,376.88 L413.16,376.72 L414.14,376.55 L415.12,376.39 L416.10,376.22 L417.08,376.05 L418.07,375.88 L419.05,375.71 L420.03,375.53 L421.01,375.35 L421.99,375.17 L422.97,374.99 L423.44,374.90 M429.18,373.77 L429.81,373.64 L430.79,373.44 L431.77,373.23 L432.74,373.02 L433.72,372.80 L434.70,372.59 L435.67,372.37 L436.65,372.14 L437.62,371.91 L438.60,371.68 L439.57,371.45 L440.55,371.21 L441.52,370.96 L442.49,370.72 L443.47,370.47 L444.44,370.21 L445.41,369.96 L446.33,369.71 M451.96,368.14 L452.20,368.07 L453.17,367.79 L454.14,367.51 L455.11,367.23 L456.08,366.94 L457.04,366.65 L458.01,366.36 L458.98,366.07 L459.94,365.78 L460.91,365.48 L461.87,365.18 L462.84,364.89 L463.80,364.59 L464.76,364.29 L465.72,363.99 L466.69,363.69 L467.65,363.39 L468.61,363.08 L468.81,363.02 M474.38,361.26 L475.32,360.96 L476.27,360.66 L477.23,360.36 L478.18,360.06 L479.14,359.76 L480.09,359.46 L481.04,359.16 L482.00,358.86 L482.95,358.56 L483.90,358.27 L484.85,357.97 L485.80,357.67 L486.74,357.38 L487.69,357.08 L488.64,356.78 L489.59,356.49 L490.53,356.19 L491.18,355.98 M496.74,354.19 L497.13,354.07 L498.07,353.76 L499.00,353.44 L499.94,353.13 L500.88,352.81 L501.81,352.49 L502.75,352.17 L503.68,351.84 L504.62,351.51 L505.55,351.18 L506.48,350.84 L507.41,350.50 L508.34,350.15 L509.27,349.80 L510.20,349.45 L511.12,349.09 L512.05,348.73 L512.97,348.36 L513.30,348.23 M518.68,345.96 L519.42,345.63 L520.34,345.21 L521.25,344.79 L522.17,344.37 L523.08,343.94 L523.99,343.50 L524.90,343.06 L525.81,342.61 L526.71,342.15 L527.61,341.69 L528.51,341.23 L529.41,340.76 L530.31,340.28 L531.20,339.80 L532.09,339.31 L532.97,338.82 L533.85,338.32 L534.38,338.02 M539.39,335.03 L539.91,334.70 L540.75,334.15 L541.59,333.60 L542.42,333.05 L543.24,332.48 L544.06,331.91 L544.87,331.33 L545.67,330.74 L546.46,330.14 L547.25,329.53 L548.02,328.92 L548.79,328.29 L549.55,327.65 L550.29,327.01 L551.03,326.35 L551.75,325.69 L552.47,325.01 L553.17,324.33 L553.25,324.24 M557.28,320.02 L557.95,319.30 L558.63,318.56 L559.31,317.82 L560.00,317.08 L560.67,316.33 L561.35,315.57 L562.02,314.81 L562.69,314.05 L563.35,313.28 L564.00,312.51 L564.65,311.73 L565.28,310.95 L565.91,310.16 L566.52,309.37 L567.12,308.57 L567.70,307.77 L568.27,306.96 L568.56,306.53 M571.66,301.59 L571.93,301.15 L572.43,300.30 L572.94,299.45 L573.45,298.59 L573.96,297.72 L574.46,296.85 L574.96,295.98 L575.45,295.10 L575.93,294.22 L576.40,293.34 L576.85,292.45 L577.28,291.56 L577.70,290.66 L578.10,289.76 L578.49,288.85 L578.87,287.95 L579.24,287.03 L579.61,286.12 L579.68,285.95 M581.75,280.49 L582.06,279.63 L582.40,278.69 L582.73,277.75 L583.05,276.80 L583.37,275.86 L583.69,274.91 L584.00,273.96 L584.31,273.01 L584.62,272.05 L584.92,271.09 L585.21,270.13 L585.51,269.17 L585.79,268.21 L586.08,267.25 L586.36,266.28 L586.63,265.31 L586.90,264.35 L587.07,263.71 M588.54,258.06 L588.67,257.54 L588.91,256.56 L589.14,255.59 L589.36,254.61 L589.59,253.63 L589.81,252.65 L590.02,251.68 L590.23,250.70 L590.44,249.72 L590.64,248.74 L590.84,247.76 L591.03,246.77 L591.23,245.79 L591.41,244.81 L591.60,243.83 L591.78,242.84 L591.96,241.86 L592.13,240.87 L592.14,240.82 M593.10,235.06 L593.11,234.96 L593.27,233.97 L593.42,232.98 L593.57,232.00 L593.71,231.01 L593.86,230.02 L594.00,229.03 L594.13,228.04 L594.27,227.05 L594.40,226.06 L594.53,225.07 L594.66,224.08 L594.79,223.09 L594.91,222.10 L595.04,221.10 L595.16,220.11 L595.28,219.12 L595.40,218.13 L595.46,217.60 M596.11,211.80 L596.18,211.18 L596.28,210.18 L596.39,209.19 L596.49,208.20 L596.60,207.20 L596.70,206.21 L596.80,205.21 L596.90,204.22 L597.00,203.23 L597.09,202.23 L597.19,201.24 L597.28,200.24 L597.38,199.25 L597.47,198.25 L597.56,197.26 L597.65,196.26 L597.74,195.27 L597.83,194.27 L597.83,194.25 M598.33,188.43 L598.34,188.30 L598.42,187.30 L598.50,186.30 L598.58,185.31 L598.66,184.31 L598.73,183.31 L598.81,182.32 L598.89,181.32 L598.96,180.32 L599.03,179.33 L599.11,178.33 L599.18,177.33 L599.25,176.34 L599.32,175.34 L599.39,174.34 L599.46,173.34 L599.53,172.35 L599.59,171.35 L599.63,170.83 M600.00,165.00 L600.04,164.36 L600.10,163.36 L600.16,162.37 L600.21,161.37 L600.27,160.37 L600.33,159.37 L600.39,158.37 L600.44,157.37 L600.50,156.38 L600.55,155.38 L600.61,154.38 L600.66,153.38 L600.71,152.38 L600.76,151.38 L600.81,150.38 L600.86,149.38 L600.91,148.38 L600.96,147.39 L600.96,147.37 M601.24,141.52 L601.25,141.39 L601.29,140.39 L601.34,139.39 L601.38,138.39 L601.42,137.39 L601.47,136.39 L601.51,135.39 L601.55,134.39 L601.59,133.39 L601.63,132.39 L601.67,131.39 L601.71,130.39 L601.75,129.39 L601.79,128.39 L601.83,127.40 L601.87,126.40 L601.91,125.40 L601.95,124.40 L601.96,123.87 M602.18,118.02 L602.20,117.40 L602.23,116.40 L602.27,115.40 L602.30,114.40 L602.33,113.40 L602.37,112.40 L602.40,111.40 L602.43,110.40 L602.46,109.40 L602.50,108.40 L602.53,107.40 L602.56,106.40 L602.59,105.40 L602.62,104.40 L602.65,103.40 L602.68,102.40 L602.71,101.40 L602.74,100.40 L602.75,100.34 M602.92,94.48 L602.92,94.40 L602.95,93.40 L602.98,92.40 L603.01,91.40 L603.04,90.40 L603.07,89.40 L603.10,88.40 L603.13,87.40 L603.15,86.40 L603.18,85.40 L603.21,84.40 L603.24,83.40 L603.27,82.40 L603.30,81.41 L603.33,80.41 L603.35,79.41 L603.38,78.41 L603.41,77.41 L603.43,76.79 M603.60,70.92 L603.61,70.42 L603.64,69.42 L603.67,68.42 L603.70,67.42 L603.73,66.42 L603.76,65.42 L603.79,64.42 L603.82,63.43 L603.85,62.43 L603.88,61.43 L603.91,60.43 L603.94,59.43 L603.97,58.44 L604.00,57.44 L604.03,56.44 L604.06,55.44 L604.09,54.44 L604.12,53.45 L604.10,53.30" stroke="#ff00ff"/>
<path d="M126.22,399.43 L126.78,400.26 L127.57,400.85 L128.39,401.41 L129.22,401.94 L130.08,402.44 L130.96,402.91 L131.85,403.35 L132.75,403.76 L133.67,404.15 L134.59,404.52 L135.53,404.88 L136.46,405.21 L137.40,405.53 L138.35,405.84 L139.30,406.13 L140.26,406.40 L141.22,406.66 L142.05,406.87 M147.80,408.09 L148.03,408.13 L149.01,408.29 L150.00,408.45 L150.99,408.60 L151.98,408.73 L152.98,408.86 L153.97,408.99 L154.97,409.10 L155.97,409.21 L156.97,409.31 L157.97,409.41 L158.97,409.50 L159.97,409.59 L160.97,409.68 L161.98,409.76 L162.98,409.83 L163.99,409.91 L164.99,409.98 L165.43,410.01 M171.30,410.40 L172.01,410.44 L173.01,410.50 L174.01,410.56 L175.01,410.62 L176.01,410.67 L177.02,410.72 L178.02,410.77 L179.02,410.82 L180.02,410.86 L181.02,410.91 L182.02,410.95 L183.02,410.99 L184.02,411.03 L185.02,411.07 L186.02,411.10 L187.02,411.14 L188.02,411.17 L189.01,411.20 M194.88,411.35 L195.01,411.35 L196.01,411.37 L197.01,411.39 L198.01,411.40 L199.01,411.42 L200.00,411.43 L201.00,411.44 L202.00,411.45 L203.00,411.46 L203.99,411.47 L204.99,411.47 L205.99,411.47 L206.99,411.48 L207.98,411.48 L208.98,411.47 L209.98,411.47 L210.98,411.47 L211.97,411.46 L212.60,411.46 M218.47,411.39 L218.95,411.38 L219.95,411.36 L220.94,411.34 L221.94,411.32 L222.93,411.30 L223.93,411.28 L224.93,411.25 L225.92,411.22 L226.92,411.20 L227.91,411.17 L228.91,411.14 L229.91,411.11 L230.90,411.07 L231.90,411.04 L232.89,411.00 L233.89,410.97 L234.89,410.93 L235.88,410.89 L236.17,410.88 M242.03,410.62 L242.85,410.58 L243.85,410.53 L244.84,410.47 L245.84,410.42 L246.83,410.37 L247.83,410.31 L248.82,410.26 L249.82,410.20 L250.82,410.14 L251.81,410.08 L252.81,410.02 L253.80,409.96 L254.80,409.90 L255.79,409.83 L256.79,409.77 L257.78,409.70 L258.78,409.63 L259.70,409.57 M265.55,409.14 L265.75,409.13 L266.75,409.05 L267.74,408.97 L268.74,408.90 L269.74,408.82 L270.73,408.73 L271.73,408.65 L272.73,408.57 L273.72,408.49 L274.72,408.40 L275.72,408.32 L276.71,408.23 L277.71,408.14 L278.71,408.05 L279.70,407.96 L280.70,407.87 L281.70,407.78 L282.70,407.69 L283.17,407.64 M289.01,407.08 L289.68,407.01 L290.68,406.91 L291.67,406.81 L292.67,406.71 L293.67,406.61 L294.67,406.50 L295.66,406.40 L296.66,406.29 L297.66,406.19 L298.66,406.08 L299.66,405.97 L300.65,405.86 L301.65,405.75 L302.65,405.64 L303.65,405.52 L304.64,405.41 L305.64,405.30 L306.58,405.19 M312.40,404.49 L312.62,404.46 L313.62,404.34 L314.62,404.22 L315.61,404.09 L316.61,403.97 L317.61,403.84 L318.61,403.71 L319.60,403.59 L320.60,403.46 L321.59,403.33 L322.59,403.20 L323.59,403.06 L324.58,402.93 L325.58,402.80 L326.57,402.66 L327.57,402.52 L328.56,402.39 L329.56,402.25 L329.92,402.20 M335.72,401.37 L336.52,401.25 L337.51,401.11 L338.51,400.96 L339.50,400.81 L340.49,400.66 L341.49,400.51 L342.48,400.36 L343.47,400.21 L344.46,400.05 L345.46,399.90 L346.45,399.74 L347.44,399.59 L348.43,399.43 L349.42,399.27 L350.41,399.11 L351.40,398.95 L352.39,398.79 L353.17,398.66 M358.95,397.70 L359.32,397.64 L360.30,397.47 L361.29,397.30 L362.28,397.12 L363.27,396.95 L364.25,396.78 L365.24,396.60 L366.22,396.43 L367.21,396.25 L368.19,396.08 L369.18,395.90 L370.16,395.72 L371.15,395.54 L372.13,395.36 L373.11,395.17 L374.10,394.99 L375.08,394.81 L376.06,394.62 L376.32,394.57 M382.07,393.46 L382.92,393.29 L383.90,393.10 L384.88,392.90 L385.86,392.71 L386.84,392.51 L387.81,392.31 L388.79,392.11 L389.77,391.91 L390.74,391.71 L391.72,391.51 L392.69,391.31 L393.67,391.10 L394.64,390.90 L395.61,390.69 L396.59,390.49 L397.56,390.28 L398.53,390.07 L399.35,389.89 M405.07,388.63 L405.32,388.57 L406.28,388.35 L407.25,388.13 L408.22,387.91 L409.18,387.69 L410.15,387.46 L411.11,387.23 L412.08,387.00 L413.04,386.77 L414.00,386.54 L414.96,386.30 L415.93,386.06 L416.89,385.82 L417.85,385.57 L418.81,385.33 L419.77,385.08 L420.73,384.83 L421.68,384.57 L422.20,384.43 M427.83,382.85 L428.37,382.69 L429.32,382.41 L430.28,382.12 L431.23,381.83 L432.18,381.54 L433.13,381.24 L434.08,380.94 L435.03,380.63 L435.97,380.32 L436.92,380.00 L437.87,379.68 L438.81,379.36 L439.76,379.03 L440.70,378.70 L441.65,378.36 L442.59,378.02 L443.53,377.67 L444.47,377.32 L444.56,377.28 M450.01,375.16 L450.11,375.13 L451.04,374.75 L451.98,374.37 L452.91,373.99 L453.85,373.60 L454.78,373.21 L455.71,372.82 L456.64,372.43 L457.57,372.03 L458.50,371.63 L459.43,371.23 L460.36,370.83 L461.29,370.42 L462.21,370.02 L463.14,369.61 L464.06,369.20 L464.99,368.79 L465.91,368.38 L466.23,368.24 M471.56,365.84 L472.35,365.48 L473.26,365.07 L474.18,364.65 L475.09,364.24 L476.00,363.82 L476.92,363.41 L477.83,362.99 L478.74,362.58 L479.65,362.17 L480.55,361.76 L481.46,361.35 L482.37,360.94 L483.27,360.53 L484.18,360.12 L485.08,359.71 L485.99,359.31 L486.89,358.90 L487.62,358.56 M492.92,356.11 L493.17,356.00 L494.06,355.58 L494.96,355.15 L495.85,354.72 L496.74,354.29 L497.63,353.86 L498.52,353.42 L499.41,352.97 L500.29,352.53 L501.18,352.08 L502.06,351.62 L502.94,351.16 L503.83,350.69 L504.71,350.22 L505.59,349.74 L506.47,349.25 L507.35,348.76 L508.22,348.27 L508.59,348.05 M513.60,345.04 L514.30,344.60 L515.16,344.05 L516.01,343.49 L516.86,342.93 L517.70,342.36 L518.54,341.79 L519.37,341.21 L520.19,340.62 L521.01,340.03 L521.82,339.44 L522.63,338.83 L523.42,338.22 L524.21,337.61 L524.99,336.99 L525.76,336.37 L526.52,335.74 L527.27,335.10 L527.81,334.64 M532.13,330.71 L532.34,330.51 L533.05,329.84 L533.76,329.16 L534.47,328.47 L535.18,327.79 L535.89,327.09 L536.60,326.40 L537.31,325.69 L538.01,324.99 L538.72,324.27 L539.42,323.56 L540.11,322.84 L540.81,322.11 L541.50,321.38 L542.19,320.65 L542.87,319.91 L543.55,319.16 L544.22,318.42 L544.47,318.14 M548.27,313.71 L548.80,313.06 L549.43,312.28 L550.05,311.49 L550.67,310.70 L551.27,309.90 L551.88,309.10 L552.48,308.30 L553.07,307.49 L553.65,306.68 L554.23,305.87 L554.80,305.05 L555.37,304.22 L555.93,303.40 L556.48,302.57 L557.03,301.73 L557.57,300.89 L558.11,300.05 L558.53,299.39 M561.53,294.38 L561.71,294.07 L562.20,293.20 L562.68,292.33 L563.16,291.46 L563.64,290.58 L564.11,289.70 L564.57,288.81 L565.03,287.93 L565.48,287.04 L565.93,286.15 L566.38,285.25 L566.81,284.36 L567.25,283.46 L567.67,282.55 L568.10,281.65 L568.52,280.74 L568.93,279.83 L569.34,278.92 L569.45,278.66 M571.73,273.28 L572.06,272.47 L572.43,271.54 L572.80,270.61 L573.16,269.68 L573.51,268.74 L573.87,267.81 L574.21,266.87 L574.56,265.93 L574.90,264.99 L575.23,264.04 L575.56,263.10 L575.89,262.15 L576.21,261.20 L576.53,260.25 L576.85,259.30 L577.16,258.35 L577.47,257.40 L577.69,256.70 M579.38,251.11 L579.51,250.69 L579.78,249.73 L580.06,248.77 L580.32,247.80 L580.59,246.84 L580.85,245.87 L581.11,244.91 L581.37,243.94 L581.62,242.97 L581.87,242.01 L582.11,241.04 L582.36,240.07 L582.60,239.10 L582.83,238.12 L583.07,237.15 L583.30,236.18 L583.52,235.21 L583.75,234.23 L583.79,234.06 M585.03,228.35 L585.23,227.40 L585.44,226.42 L585.63,225.44 L585.83,224.46 L586.02,223.48 L586.21,222.50 L586.40,221.51 L586.59,220.53 L586.77,219.55 L586.95,218.57 L587.13,217.58 L587.31,216.60 L587.48,215.61 L587.66,214.63 L587.83,213.64 L587.99,212.66 L588.16,211.67 L588.27,211.03 M589.19,205.26 L589.27,204.76 L589.42,203.77 L589.57,202.78 L589.71,201.79 L589.86,200.80 L590.00,199.81 L590.14,198.82 L590.28,197.83 L590.42,196.84 L590.56,195.85 L590.70,194.86 L590.83,193.87 L590.97,192.88 L591.10,191.89 L591.23,190.90 L591.36,189.91 L591.49,188.92 L591.61,187.93 L591.63,187.81 M592.34,182.01 L592.35,181.97 L592.47,180.98 L592.58,179.99 L592.70,179.00 L592.82,178.00 L592.93,177.01 L593.04,176.02 L593.15,175.02 L593.26,174.03 L593.37,173.04 L593.48,172.04 L593.58,171.05 L593.69,170.06 L593.79,169.06 L593.90,168.07 L594.00,167.07 L594.10,166.08 L594.20,165.08 L594.26,164.50 M594.82,158.68 L594.87,158.12 L594.96,157.13 L595.05,156.13 L595.14,155.14 L595.23,154.14 L595.32,153.14 L595.40,152.15 L595.49,151.15 L595.57,150.16 L595.66,149.16 L595.74,148.16 L595.82,147.17 L595.90,146.17 L595.98,145.18 L596.06,144.18 L596.14,143.18 L596.22,142.19 L596.30,141.19 L596.30,141.12 M596.74,135.29 L596.74,135.21 L596.81,134.21 L596.88,133.21 L596.95,132.22 L597.02,131.22 L597.09,130.22 L597.16,129.23 L597.22,128.23 L597.29,127.23 L597.36,126.23 L597.42,125.23 L597.48,124.24 L597.55,123.24 L597.61,122.24 L597.67,121.24 L597.73,120.25 L597.79,119.25 L597.85,118.25 L597.89,117.70 M598.22,111.86 L598.26,111.26 L598.31,110.26 L598.37,109.26 L598.42,108.27 L598.48,107.27 L598.53,106.27 L598.58,105.27 L598.64,104.27 L598.69,103.27 L598.74,102.27 L598.79,101.27 L598.84,100.28 L598.89,99.28 L598.94,98.28 L598.99,97.28 L599.04,96.28 L599.08,95.28 L599.13,94.28 L599.13,94.25 M599.40,88.41 L599.41,88.29 L599.46,87.29 L599.50,86.29 L599.54,85.29 L599.59,84.29 L599.63,83.29 L599.67,82.29 L599.72,81.29 L599.76,80.29 L599.80,79.29 L599.84,78.30 L599.89,77.30 L599.93,76.30 L599.97,75.30 L600.01,74.30 L600.05,73.30 L600.09,72.30 L600.13,71.30 L600.15,70.79 M600.38,64.95 L600.40,64.31 L600.44,63.31 L600.48,62.31 L600.52,61.31 L600.56,60.31 L600.59,59.31 L600.63,58.31 L600.67,57.31 L600.71,56.31 L600.74,55.31 L600.78,54.32 L600.82,53.32 L600.85,52.32 L600.89,51.32 L600.93,50.32 L600.96,49.32 L601.00,48.32 L601.03,47.32 L601.03,47.32 M601.25,41.47 L601.25,41.33 L601.29,40.33 L601.32,39.33 L601.30,39.30" stroke="#00cccc"/>
</g>
<rect x="124.5" y="40.5" width="481.7" height="415.5" fill="none" stroke="#1a1a1a" stroke-width="1.35" stroke-linejoin="round"/>
<g class="t"><text x="116.9" y="458.3" font-size="14px" text-anchor="end" style="word-spacing:0.6px">− 0.2</text>
<text x="116.9" y="403.5" font-size="14px" text-anchor="end" style="word-spacing:0.6px">0</text>
<text x="116.9" y="348.7" font-size="14px" text-anchor="end" style="word-spacing:0.6px">0.2</text>
<text x="116.9" y="293.9" font-size="14px" text-anchor="end" style="word-spacing:0.6px">0.4</text>
<text x="116.9" y="239.1" font-size="14px" text-anchor="end" style="word-spacing:0.6px">0.6</text>
<text x="116.9" y="184.3" font-size="14px" text-anchor="end" style="word-spacing:0.6px">0.8</text>
<text x="116.9" y="129.5" font-size="14px" text-anchor="end" style="word-spacing:0.6px">1.0</text>
<text x="116.9" y="74.7" font-size="14px" text-anchor="end" style="word-spacing:0.6px">1.2</text>
<text x="126.0" y="474.4" font-size="14px" text-anchor="middle">0</text>
<text x="185.2" y="474.4" font-size="14px" text-anchor="middle">1</text>
<text x="244.5" y="474.4" font-size="14px" text-anchor="middle">2</text>
<text x="303.7" y="474.4" font-size="14px" text-anchor="middle">3</text>
<text x="362.9" y="474.4" font-size="14px" text-anchor="middle">4</text>
<text x="422.1" y="474.4" font-size="14px" text-anchor="middle">5</text>
<text x="481.4" y="474.4" font-size="14px" text-anchor="middle">6</text>
<text x="540.6" y="474.4" font-size="14px" text-anchor="middle">7</text>
<text x="599.8" y="474.4" font-size="14px" text-anchor="middle">8</text>
<text class="i" x="363.2" y="491.6" font-size="14.5px" text-anchor="middle">x</text>
<text class="i" x="13.5" y="65.6" font-size="20px">V</text>
<text x="34.2" y="72.6" font-size="14.5px" text-anchor="middle">7</text>
<text x="34.2" y="93.3" font-size="14.5px" text-anchor="middle">2</text>
<text x="43.2" y="83.7" font-size="14.5px">,</text>
<text class="i" x="52.6" y="83.8" font-size="15.5px">r</text>
<text x="63.5" y="66.4" font-size="21px">(</text>
<text class="i" x="73.6" y="66.0" font-size="20px">x</text>
<text x="86.6" y="66.4" font-size="21px">)</text>
<text class="i" x="158.0" y="324.4" font-size="20px">r</text>
<text x="171.0" y="324.4" font-size="20px">=</text>
<text x="199.7" y="311.8" font-size="20px" text-anchor="middle">5</text>
<text x="199.7" y="339.2" font-size="20px" text-anchor="middle">2</text>
<text class="i" x="304.4" y="434.2" font-size="20px">r</text>
<text x="317.6" y="434.2" font-size="20px">=</text>
<text x="345.8" y="422.2" font-size="20px" text-anchor="middle">9</text>
<text x="345.8" y="449.3" font-size="20px" text-anchor="middle">2</text>
<text class="i" x="451.2" y="431.7" font-size="20px">r</text>
<text x="464.0" y="431.7" font-size="20px">=</text>
<text x="492.0" y="419.0" font-size="20px" text-anchor="middle">1</text>
<text x="492.0" y="446.5" font-size="20px" text-anchor="middle">2</text>
<text class="i" x="529.8" y="432.4" font-size="20px">r</text>
<text x="542.4" y="432.4" font-size="20px">=</text>
<text x="585.7" y="419.6" font-size="20px" text-anchor="middle">1</text>
<text x="585.7" y="447.0" font-size="20px" text-anchor="middle">2</text>
<text class="i" x="462.0" y="313.7" font-size="20px">r</text>
<text x="475.0" y="313.7" font-size="20px">=</text>
<text x="502.8" y="301.2" font-size="20px" text-anchor="middle">3</text>
<text x="502.8" y="328.3" font-size="20px" text-anchor="middle">2</text>
<text class="i" x="518.6" y="246.4" font-size="20px">r</text>
<text x="531.5" y="246.4" font-size="20px">=</text>
<text x="559.8" y="233.2" font-size="20px" text-anchor="middle">7</text>
<text x="559.8" y="261.1" font-size="20px" text-anchor="middle">2</text></g>
<path d="M28.4,79.3H41.6 M190.8,319.0H210.2 M337.0,428.8H356.7 M483.8,426.4H503.2 M563.0,426.7H571.2 M577.4,426.9H596.8 M494.3,308.1H514.3 M551.5,241.0H571.2" stroke="#000" stroke-width="1.3" fill="none"/>
<path d="M177.3,325.0L169.1,386.1M166.5,379.4L169.1,386.1L173.4,381.2 M321.6,421.8L321.6,407.3M319.1,411.7L321.6,407.3L324.1,411.7 M470.2,418.7L491.8,376.9M486.3,379.3L491.8,376.9L492.2,382.6 M548.9,421.2L555.4,377.2M552.4,381.6L555.4,377.2L557.9,381.8 M519.0,311.7L554.2,348.8M549.5,349.4L554.2,348.8L554.0,343.3 M538.1,246.9L570.8,293.3M565.8,292.3L570.8,293.3L570.8,287.3" stroke="#000" stroke-width="1.35" fill="none" stroke-linejoin="miter"/>
</svg></body></html>
